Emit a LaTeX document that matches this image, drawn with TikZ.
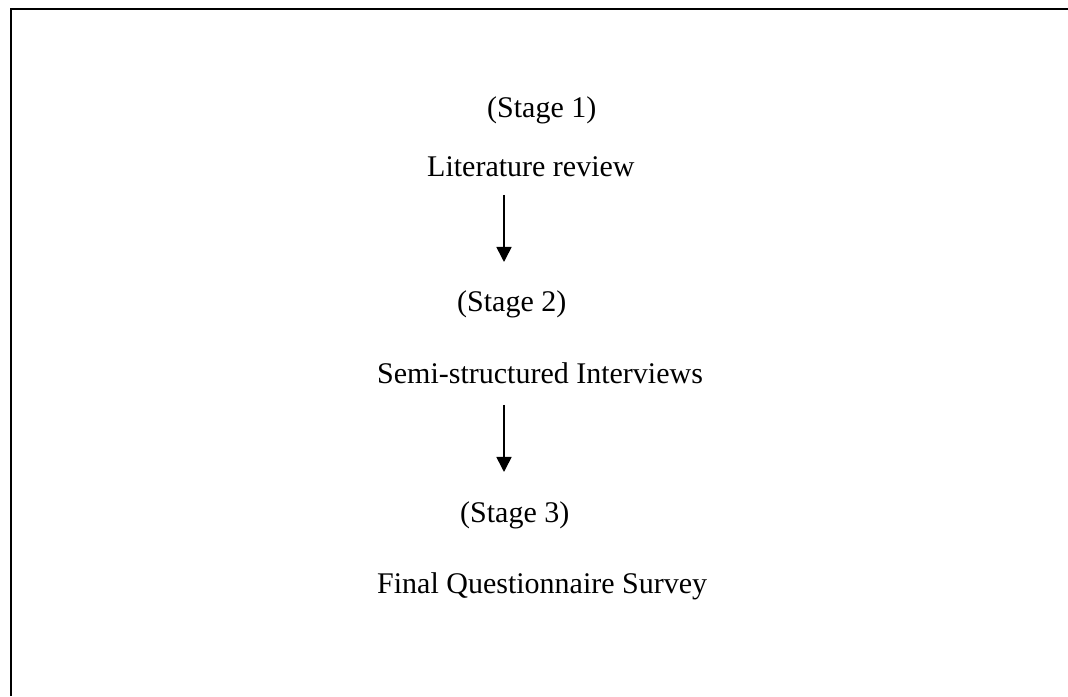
\documentclass[tikz,border=0pt]{standalone}
\usepackage{fontspec}
\setmainfont{Liberation Serif}
\usetikzlibrary{arrows.meta}
\begin{document}
\begin{tikzpicture}[x=1pt,y=1pt,
  lbl/.style={anchor=base west,inner sep=0pt,font=\fontsize{30}{36}\selectfont},
  flow/.style={line width=1.6pt,-{Triangle[width=15pt,length=15pt]}},
  frame/.style={line width=2.2pt}]
\useasboundingbox (0,0) rectangle (1068,696);
\fill[white] (0,0) rectangle (1068,696);
\draw[frame] (11,0) -- (11,687) -- (1068,687);
\node[lbl] (s1) at (487,578) {(Stage 1)};
\node[lbl] (lit) at (427,519) {Literature review};
\node[lbl] (s2) at (457,384) {(Stage 2)};
\node[lbl] (semi) at (377,312) {Semi-structured Interviews};
\node[lbl] (s3) at (460,173) {(Stage 3)};
\node[lbl] (fin) at (377,102) {Final Questionnaire Survey};
\coordinate (a1s) at (504,501);
\coordinate (a1e) at (504,434);
\coordinate (a2s) at (504,291);
\coordinate (a2e) at (504,224);
\draw[flow] (a1s) -- (a1e);
\draw[flow] (a2s) -- (a2e);
\end{tikzpicture}
\end{document}
